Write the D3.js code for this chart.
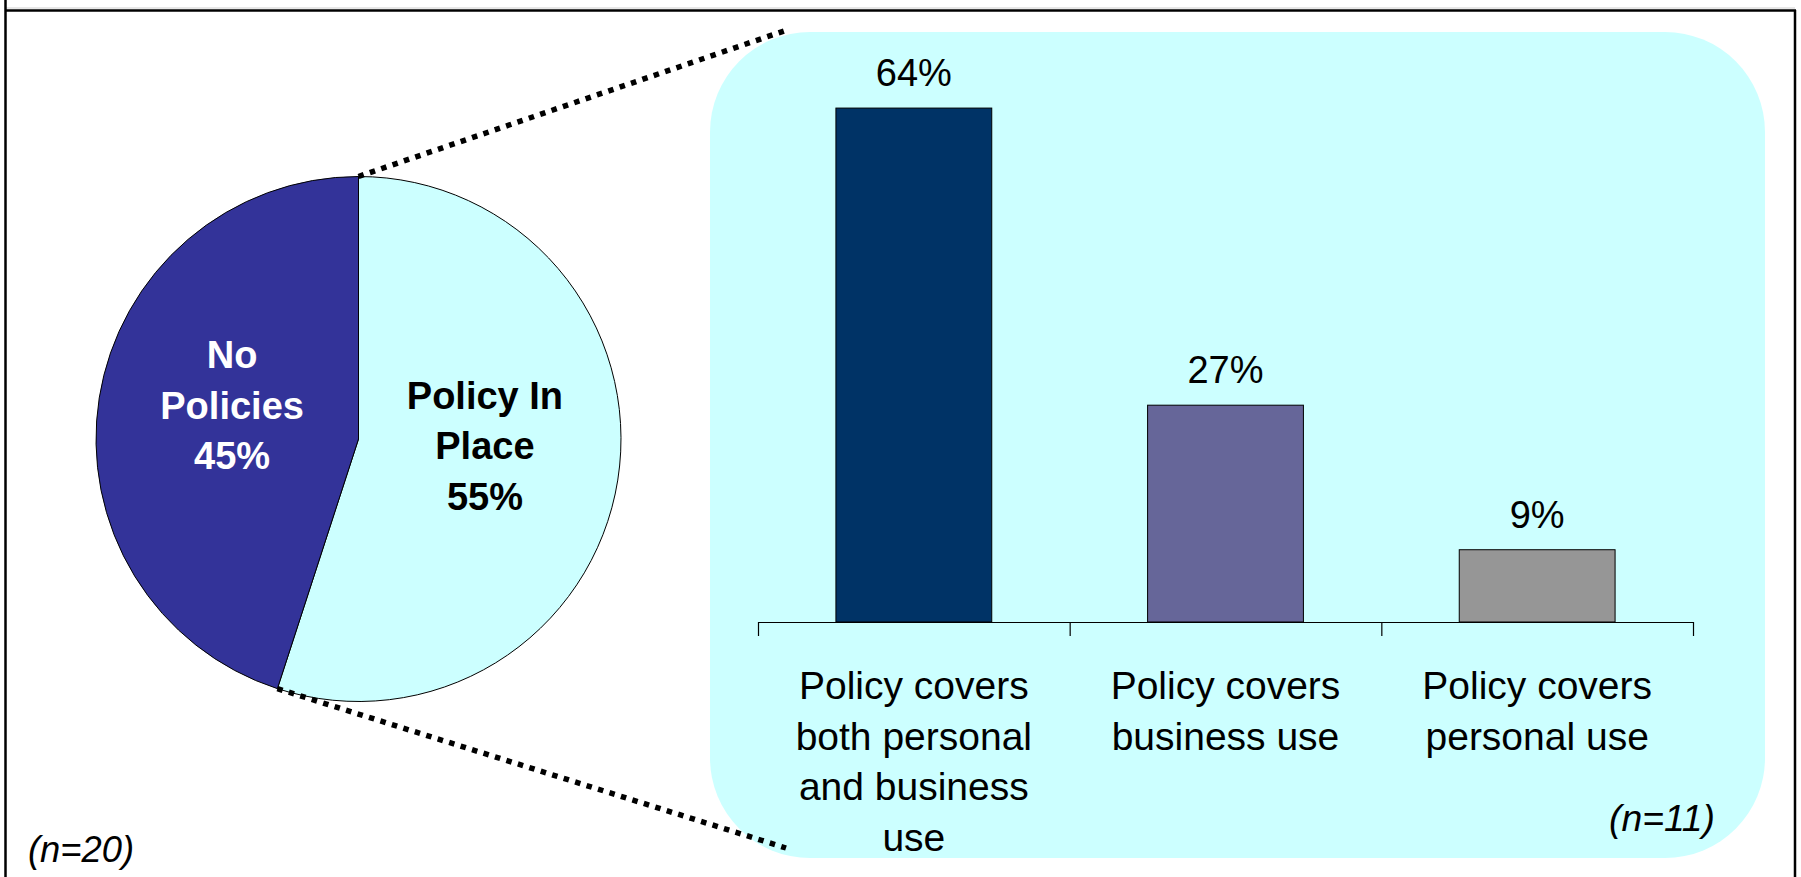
<!DOCTYPE html>
<html>
<head>
<meta charset="utf-8">
<script src="https://cdn.jsdelivr.net/npm/d3@7/dist/d3.min.js"></script>
<style>
  html, body { margin: 0; padding: 0; background: #fff; }
  svg { display: block; font-family: Arial, "Liberation Sans", sans-serif; }
</style>
</head>
<body>
<svg id="chart" width="1801" height="877"></svg>
<script>
// Overall split (pie)
const pieNames = [["Policy In", "Place"], ["No", "Policies"]];
const pieValues = [55, 45];
const pieColors = ["#CCFFFF", "#333399"];
const pieTextColors = ["#000000", "#FFFFFF"];

// Breakdown of those with a policy (bars)
const barCategories = [
  "Policy covers both personal and business use",
  "Policy covers business use",
  "Policy covers personal use"
];
const barCategoryLines = [
  ["Policy covers", "both personal", "and business", "use"],
  ["Policy covers", "business use"],
  ["Policy covers", "personal use"]
];
const barValues = [64, 27, 9];
const barColors = ["#003366", "#666699", "#969696"];

const sampleLeft = "20";
const sampleRight = "11";

const svg = d3.select("#chart");
const W = 1801, H = 877;

// Frame
svg.append("line").attr("x1", 5).attr("x2", 1795).attr("y1", 8).attr("y2", 8)
  .attr("stroke", "#cfcfcf").attr("stroke-width", 1);
svg.append("line").attr("x1", 5).attr("x2", 1796).attr("y1", 10.5).attr("y2", 10.5)
  .attr("stroke", "#000").attr("stroke-width", 2.5);
svg.append("line").attr("x1", 5.5).attr("x2", 5.5).attr("y1", 0).attr("y2", H)
  .attr("stroke", "#000").attr("stroke-width", 2.5);
svg.append("line").attr("x1", 1795).attr("x2", 1795).attr("y1", 10).attr("y2", H)
  .attr("stroke", "#000").attr("stroke-width", 2.5);

// Rounded panel behind the bar chart
const panel = { x: 710, y: 32, w: 1055, h: 826, r: 100 };
svg.append("rect")
  .attr("x", panel.x).attr("y", panel.y)
  .attr("width", panel.w).attr("height", panel.h)
  .attr("rx", panel.r).attr("ry", panel.r)
  .attr("fill", "#CCFFFF");

// Pie
const cx = 358.5, cy = 439, R = 262.5;
const pie = d3.pie().sort(null).value(d => d)(pieValues);
const arc = d3.arc().innerRadius(0).outerRadius(R);
const labelArc = d3.arc().innerRadius(128).outerRadius(128);

const pg = svg.append("g").attr("transform", `translate(${cx},${cy})`);
pg.selectAll("path.slice").data(pie).join("path")
  .attr("class", "slice")
  .attr("d", arc)
  .attr("fill", (d, i) => pieColors[i])
  .attr("stroke", "#000")
  .attr("stroke-width", 1);

// Connector lines from the "Policy In Place" slice to the panel
const first = pie[0];
const edgePt = a => [cx + R * Math.sin(a), cy - R * Math.cos(a)];
const startTop = edgePt(first.startAngle);
const startBottom = edgePt(first.endAngle);
const connectors = [
  [startTop, [784, 31]],
  [startBottom, [786, 848]]
];
svg.selectAll("line.connector").data(connectors).join("line")
  .attr("class", "connector")
  .attr("x1", d => d[0][0]).attr("y1", d => d[0][1])
  .attr("x2", d => d[1][0]).attr("y2", d => d[1][1])
  .attr("stroke", "#000")
  .attr("stroke-width", 5.5)
  .attr("stroke-dasharray", "5.5 6.5");

// Pie labels
const lineH = 50.5;
pie.forEach((d, i) => {
  const [lx, ly] = labelArc.centroid(d);
  const lines = pieNames[i].concat([pieValues[i] + "%"]);
  const t = pg.append("text")
    .attr("text-anchor", "middle")
    .attr("font-weight", "bold")
    .attr("font-size", 38)
    .attr("fill", pieTextColors[i]);
  const mid = (lines.length - 1) / 2;
  lines.forEach((s, k) => {
    t.append("tspan").attr("x", lx).attr("y", ly + (k - mid) * lineH).text(s);
  });
});

// Bar chart
const x0 = 758, x1 = 1693, baseY = 622;
const x = d3.scaleBand().domain(barCategories).range([x0, x1])
  .paddingInner(0.5).paddingOuter(0.25);
const y = d3.scaleLinear().domain([0, 70]).range([baseY, baseY - 70 * 8.03]);

svg.selectAll("rect.bar").data(barValues).join("rect")
  .attr("class", "bar")
  .attr("x", (d, i) => x(barCategories[i]))
  .attr("y", d => y(d))
  .attr("width", x.bandwidth())
  .attr("height", d => y(0) - y(d))
  .attr("fill", (d, i) => barColors[i])
  .attr("stroke", "#000")
  .attr("stroke-width", 1);

svg.selectAll("text.val").data(barValues).join("text")
  .attr("class", "val")
  .attr("x", (d, i) => x(barCategories[i]) + x.bandwidth() / 2)
  .attr("y", d => y(d) - 22)
  .attr("text-anchor", "middle")
  .attr("font-size", 38)
  .attr("fill", "#000")
  .text(d => d + "%");

// Category axis with ticks at band boundaries
const bounds = d3.scaleLinear().domain([0, barCategories.length]).range([x0, x1]);
svg.append("g")
  .attr("transform", `translate(0,${baseY})`)
  .call(d3.axisBottom(bounds)
    .tickValues(d3.range(barCategories.length + 1))
    .tickSize(14).tickSizeOuter(0).tickFormat(""))
  .call(g => g.selectAll("path, line").attr("stroke", "#000").attr("stroke-width", 1.2));

const cats = svg.append("g");
barCategoryLines.forEach((lines, i) => {
  const t = cats.append("text")
    .attr("text-anchor", "middle")
    .attr("font-size", 39)
    .attr("fill", "#000");
  const cxb = x(barCategories[i]) + x.bandwidth() / 2;
  lines.forEach((s, k) => {
    t.append("tspan").attr("x", cxb).attr("y", 699 + k * lineH).text(s);
  });
});

// Sample sizes
function sampleNote(xPos, yPos, n) {
  const t = svg.append("text")
    .attr("x", xPos).attr("y", yPos)
    .attr("font-size", 36)
    .attr("font-style", "italic")
    .attr("textLength", 106)
    .attr("lengthAdjust", "spacingAndGlyphs")
    .attr("fill", "#000");
  t.append("tspan").text("(");
  t.append("tspan").text("n");
  t.append("tspan").text("=" + n + ")");
}
sampleNote(28, 862, sampleLeft);
sampleNote(1609, 831, sampleRight);
</script>
</body>
</html>
